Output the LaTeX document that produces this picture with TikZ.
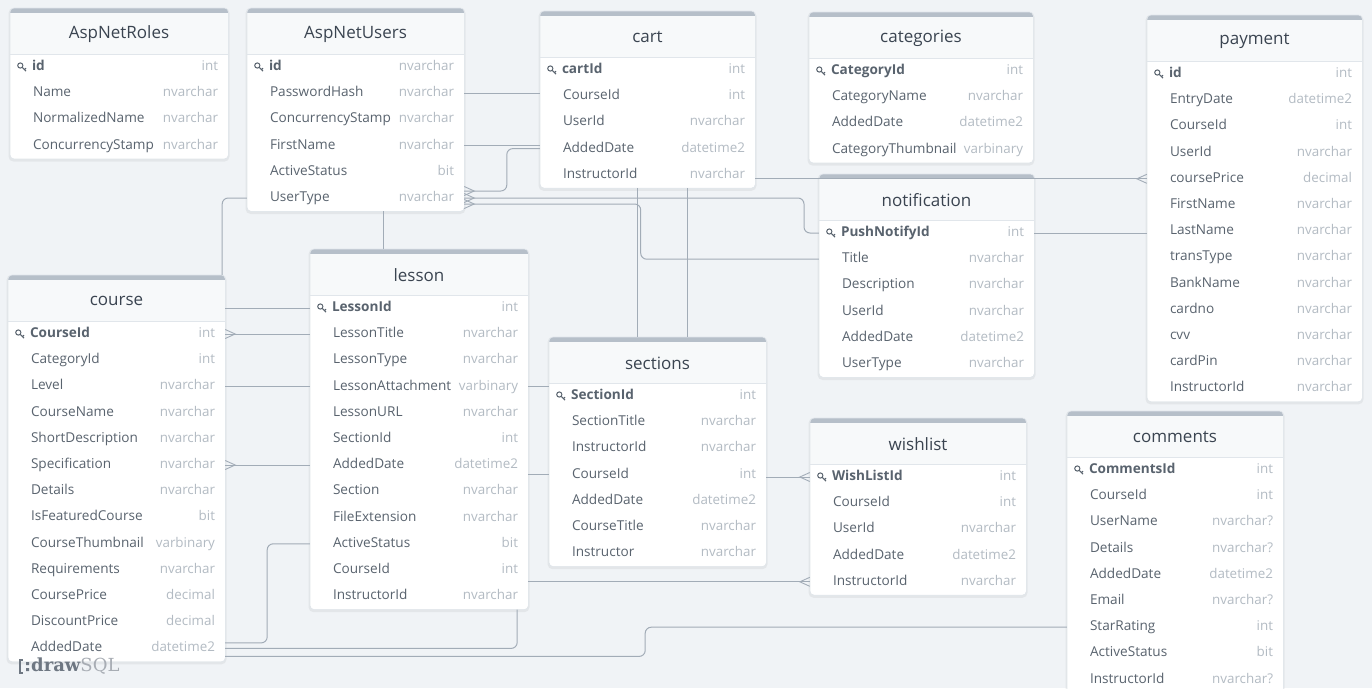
\documentclass[tikz,border=0pt]{standalone}
\usepackage{fontspec}
\setmainfont{Open Sans}
\newfontfamily\logofont{DejaVu Serif}
\usetikzlibrary{calc}

\definecolor{bgcol}{HTML}{F0F3F6}
\definecolor{framecol}{HTML}{E1E6EB}
\definecolor{barcol}{HTML}{B6BFC9}
\definecolor{headcol}{HTML}{F7F9FA}
\definecolor{titlecol}{HTML}{3A4450}
\definecolor{namecol}{HTML}{59636E}
\definecolor{typecol}{HTML}{B3BBC3}
\definecolor{linecol}{HTML}{A2ACB7}
\definecolor{logocol}{HTML}{6E7782}

\tikzset{
  tblframe/.style={fill=white, rounded corners=4pt, inner sep=0pt},
  tbltitle/.style={text=titlecol, font=\fontsize{17}{20}\selectfont, inner sep=0pt, minimum height=40pt},
  tblrow/.style={inner sep=0pt, minimum height=26.2pt},
  fieldname/.style={text=namecol, font=\fontsize{13.6}{15}\selectfont, inner sep=0pt, text height=9.8pt, text depth=2.8pt},
  keyname/.style={fieldname, font=\fontsize{13.6}{15}\selectfont\bfseries},
  fieldtype/.style={text=typecol, font=\fontsize{13.4}{15}\selectfont, inner sep=0pt, text height=9.8pt, text depth=2.8pt},
  rel/.style={draw=linecol, line width=1pt, rounded corners=6pt},
  crowE/.pic={\draw[linecol, line width=0.9pt] (0,-4.5) -- (10,0) -- (0,4.5);},
  crowW/.pic={\draw[linecol, line width=0.9pt] (0,-4.5) -- (-10,0) -- (0,4.5);},
  keyicon/.pic={\draw[namecol, line width=1pt] (-1.5,-1.5) circle[radius=2.6pt];
    \draw[namecol, line width=1pt] (0.4,0.4) -- (4.2,4.2) (2.6,2.6) -- (4.2,1.2);},
}

% #1 name, #2 left, #3 right, #4 top, #5 title, #6 rows, #7 fields
\newcommand{\dbtable}[7]{%
  \pgfmathsetmacro\tbBot{#4+59+26.2*(#6-1)+13}
  \pgfmathsetmacro\tbWid{#3-#2}
  \pgfmathsetmacro\tbHgt{\tbBot-#4}
  \pgfmathsetmacro\tbMid{(#2+#3)/2}
  \fill[black, opacity=0.05, rounded corners=5pt] (#2-1.5,#4) rectangle (#3+1.5,\tbBot+3);
  \node[tblframe, minimum width=\tbWid pt, minimum height=\tbHgt pt, anchor=north west] (#1) at (#2,#4) {};
  \begin{scope}
    \clip[rounded corners=4pt] (#1.north west) rectangle (#1.south east);
    \fill[barcol] (#2,#4) rectangle (#3,#4+5);
    \fill[headcol] (#2,#4+5) rectangle (#3,#4+46);
    \draw[framecol, line width=0.8pt] (#2,#4+46) -- (#3,#4+46);
  \end{scope}
  \draw[framecol, line width=0.6pt, rounded corners=4pt] (#1.north west) rectangle (#1.south east);
  \node[tbltitle, minimum width=\tbWid pt] (#1-h) at (\tbMid,#4+26) {#5};
  \foreach \fname/\ftype [count=\i] in {#7} {
    \pgfmathsetmacro\rowY{#4+59+26.2*(\i-1)}
    \node[tblrow, minimum width=\tbWid pt] (#1-\i) at (\tbMid,\rowY) {};
    \ifnum\i=1\relax
      \pic at ([xshift=12pt]#1-\i.west) {keyicon};
      \node[keyname, anchor=west] at ([xshift=22pt]#1-\i.west) {\fname};
    \else
      \node[fieldname, anchor=west] at ([xshift=23pt]#1-\i.west) {\fname};
    \fi
    \node[fieldtype, anchor=east] at ([xshift=-10pt]#1-\i.east) {\ftype};
  }
}

\begin{document}
\begin{tikzpicture}[x=1pt, y=-1pt]
\useasboundingbox (0,0) rectangle (1372,688);
\fill[bgcol] (0,0) rectangle (1372,688);
\clip (0,0) rectangle (1372,688);

% tables
\dbtable{roles}{10}{228}{8}{AspNetRoles}{4}{id/int, Name/nvarchar, NormalizedName/nvarchar, ConcurrencyStamp/nvarchar}
\dbtable{users}{247}{464}{8}{AspNetUsers}{6}{id/nvarchar, PasswordHash/nvarchar, ConcurrencyStamp/nvarchar, FirstName/nvarchar, ActiveStatus/bit, UserType/nvarchar}
\dbtable{cart}{540}{755}{11}{cart}{5}{cartId/int, CourseId/int, UserId/nvarchar, AddedDate/datetime2, InstructorId/nvarchar}
\dbtable{categories}{809}{1033}{12}{categories}{4}{CategoryId/int, CategoryName/nvarchar, AddedDate/datetime2, CategoryThumbnail/varbinary}
\dbtable{payment}{1147}{1362}{15}{payment}{13}{id/int, EntryDate/datetime2, CourseId/int, UserId/nvarchar, coursePrice/decimal, FirstName/nvarchar, LastName/nvarchar, transType/nvarchar, BankName/nvarchar, cardno/nvarchar, cvv/nvarchar, cardPin/nvarchar, InstructorId/nvarchar}
\dbtable{notification}{819}{1034}{174}{notification}{6}{PushNotifyId/int, Title/nvarchar, Description/nvarchar, UserId/nvarchar, AddedDate/datetime2, UserType/nvarchar}
\dbtable{course}{8}{225}{275}{course}{13}{CourseId/int, CategoryId/int, Level/nvarchar, CourseName/nvarchar, ShortDescription/nvarchar, Specification/nvarchar, Details/nvarchar, IsFeaturedCourse/bit, CourseThumbnail/varbinary, Requirements/nvarchar, CoursePrice/decimal, DiscountPrice/decimal, AddedDate/datetime2}
\dbtable{lesson}{310}{528}{249}{lesson}{12}{LessonId/int, LessonTitle/nvarchar, LessonType/nvarchar, LessonAttachment/varbinary, LessonURL/nvarchar, SectionId/int, AddedDate/datetime2, Section/nvarchar, FileExtension/nvarchar, ActiveStatus/bit, CourseId/int, InstructorId/nvarchar}
\dbtable{sections}{549}{766}{337}{sections}{7}{SectionId/int, SectionTitle/nvarchar, InstructorId/nvarchar, CourseId/int, AddedDate/datetime2, CourseTitle/nvarchar, Instructor/nvarchar}
\dbtable{wishlist}{810}{1026}{418}{wishlist}{5}{WishListId/int, CourseId/int, UserId/nvarchar, AddedDate/datetime2, InstructorId/nvarchar}
\dbtable{comments}{1067}{1283}{411}{comments}{9}{CommentsId/int, CourseId/int, UserName/nvarchar?, Details/nvarchar?, AddedDate/datetime2, Email/nvarchar?, StarRating/int, ActiveStatus/bit, InstructorId/nvarchar?}

% relations
\draw[rel] (users-2.east) -- (users-2.east -| cart.west);
\draw[rel] (users-4.east) -- (users-4.east -| cart.west);
\draw[rel] (cart-4.west) -- ++(-33,0) |- ([yshift=7pt]users-6.east);
\draw[rel] (users-6.east) -- ([xshift=-15pt]users-6.east -| notification.west) |- (notification-1.west);
\draw[rel] ([yshift=-6pt]users-6.east) -- ([xshift=-7pt,yshift=-6pt]users-6.east -| cart.south) |- (notification-2.west);
\pic at (users-6.east) {crowE};
\pic at ([yshift=7pt]users-6.east) {crowE};
\pic at ([yshift=-6pt]users-6.east) {crowE};
\draw[rel] ([yshift=-4pt]cart-5.east) -- (payment-5.west);
\pic at (payment-5.west) {crowW};
\draw[rel] (notification-1.east) -- (notification-1.east -| payment.west);
\draw[rel] ([xshift=-10pt]cart.south) -- ([xshift=-10pt]cart.south |- sections.north);
\draw[rel] ([xshift=40pt]cart.south) -- ([xshift=40pt]cart.south |- sections.north);
\draw[rel] ([xshift=27.5pt]users.south) -- ([xshift=27.5pt]users.south |- lesson.north);
\draw[rel] (users-6.west) -| ([xshift=105.5pt]course.north);
\draw[rel] (lesson-1.west -| course.east) -- (lesson-1.west);
\draw[rel] (course-1.east) -- (course-1.east -| lesson.west);
\pic at (course-1.east) {crowE};
\draw[rel] (course-3.east) -- (course-3.east -| lesson.west);
\draw[rel] (course-6.east) -- (course-6.east -| lesson.west);
\pic at (course-6.east) {crowE};
\draw[rel] ([yshift=5.5pt]course-13.east) -- ++(42,0) |- (lesson-10.west);
\draw[rel] (course-13.east) -| ([xshift=98pt]lesson.south);
\draw[rel] ([yshift=-8pt]course-13.east) -- ++(420,0) |- (comments-7.west);
\draw[rel] (lesson-4.east) -- (lesson-4.east -| sections.west);
\draw[rel] (sections-4.west -| lesson.east) -- (sections-4.west);
\draw[rel] (wishlist-5.west -| lesson.east) -- (wishlist-5.west);
\pic at (wishlist-5.west) {crowW};
\draw[rel] (wishlist-1.west -| sections.east) -- (wishlist-1.west);
\pic at (wishlist-1.west) {crowW};

% logo
\draw[logocol, line width=1.6pt] (23,660) -- (20,660) -- (20,673) -- (23,673);
\fill[logocol] (26,662) rectangle (29,665) (26,668) rectangle (29,671);
\node[anchor=west, inner sep=0pt, font=\logofont\fontsize{18}{20}\selectfont] (logo) at (31,666)
  {\textcolor{logocol}{\bfseries draw}\textcolor{logocol!60}{SQL}};
\end{tikzpicture}
\end{document}
